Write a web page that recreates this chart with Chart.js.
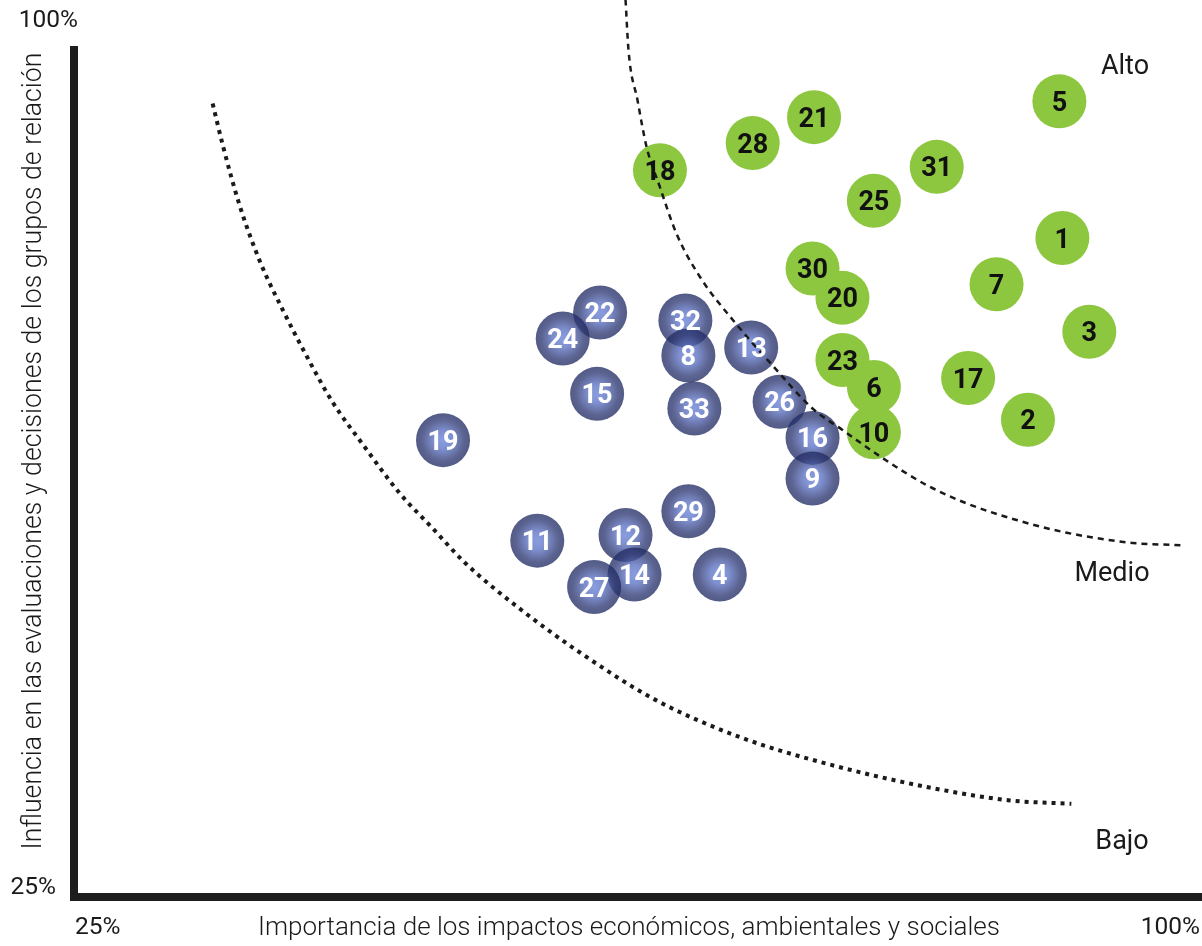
<!DOCTYPE html>
<html><head><meta charset="utf-8">
<script src="https://cdn.jsdelivr.net/npm/chart.js@4/dist/chart.umd.min.js"></script>
<style>html,body{margin:0;padding:0;background:#fff;overflow:hidden}#wrap{width:1202px;height:946px;position:relative}</style>
</head><body><div id="wrap"><canvas id="c" width="1202" height="946"></canvas></div>
<script>
// ---- data ----
const xTitle = 'Importancia de los impactos económicos, ambientales y sociales';
const yTitle = 'Influencia en las evaluaciones y decisiones de los grupos de relación';
const axisMinLabel = '25%';
const axisMaxLabel = '100%';
const zoneLabels = ['Alto', 'Medio', 'Bajo'];

const greenIds = ['5','21','28','18','31','25','1','30','7','20','3','23','6','17','2','10'];
const greenX   = [90.6, 74.2, 70.1, 63.9, 82.4, 78.2, 90.8, 74.1, 86.4, 76.1, 92.6, 76.1, 78.2, 84.5, 88.5, 78.2];
const greenY   = [95.1, 93.7, 91.4, 89.0, 89.3, 86.3, 83.0, 80.3, 78.9, 77.7, 74.7, 72.2, 69.8, 70.6, 66.9, 65.8];

const blueIds = ['22','24','32','8','13','15','33','26','16','9','19','29','11','12','14','27','4'];
const blueX   = [59.9, 57.4, 65.6, 65.8, 70.0, 59.7, 66.2, 71.9, 74.1, 74.1, 49.4, 65.8, 55.7, 61.6, 62.2, 59.5, 67.9];
const blueY   = [76.4, 74.1, 75.7, 72.6, 73.3, 69.2, 67.9, 68.5, 65.3, 61.7, 65.1, 58.8, 56.2, 56.7, 53.2, 52.1, 53.2];

const medioX = [61.6, 61.8, 62.4, 63.0, 63.9, 65.0, 66.6, 68.8, 71.5, 74.1, 76.1, 78.8, 81.75, 84.4, 87.8, 91.1, 95.5, 98.7];
const medioY = [104.1, 99.6, 95.2, 91.1, 87.5, 83.4, 79.5, 75.7, 71.6, 67.9, 66.0, 63.5, 61.1, 59.5, 58.0, 56.9, 56.0, 55.8];

const bajoX = [34.0, 34.7, 35.8, 37.2, 38.7, 40.3, 42.0, 44.05, 46.5, 48.7, 50.9, 54.6, 58.6, 63.6, 69.25, 74.9, 81.7, 87.3, 91.4];
const bajoY = [94.9, 91.1, 85.9, 80.8, 76.6, 72.5, 68.5, 64.7, 60.4, 57.3, 54.2, 50.1, 46.25, 42.1, 38.8, 36.5, 34.4, 33.2, 32.9];

// ---- build ----
const zip = (xs, ys) => xs.map((x, i) => ({x, y: ys[i]}));
const FONT = 'Roboto, "Open Sans", "DejaVu Sans", sans-serif';
const R = 27;
const BLUE_EDGE = 'rgba(34,44,100,0.78)';

function blueFill(c) {
  if (c.type !== 'data' || !c.raw) return BLUE_EDGE;
  const ch = c.chart, xs = ch.scales.x, ys = ch.scales.y;
  if (!xs || !ys) return BLUE_EDGE;
  const px = xs.getPixelForValue(c.raw.x), py = ys.getPixelForValue(c.raw.y);
  if (!isFinite(px) || !isFinite(py)) return BLUE_EDGE;
  const g = ch.ctx.createRadialGradient(px, py, 0, px, py, R);
  g.addColorStop(0, 'rgba(104,130,214,0.78)');
  g.addColorStop(0.35, 'rgba(90,112,194,0.78)');
  g.addColorStop(0.78, 'rgba(46,56,114,0.78)');
  g.addColorStop(1, BLUE_EDGE);
  return g;
}

function fitFont(ctx, text, target, weight) {
  ctx.font = weight + ' 100px ' + FONT;
  const w = ctx.measureText(text).width;
  return weight + ' ' + (100 * target / w).toFixed(2) + 'px ' + FONT;
}

const deco = {
  id: 'deco',
  beforeDatasetsDraw(chart) {
    const {ctx, chartArea: a} = chart;
    ctx.save();
    ctx.fillStyle = '#1d1d1d';
    ctx.fillRect(a.left - 8, a.top, 8, a.bottom - a.top + 8);
    ctx.fillRect(a.left - 8, a.bottom, chart.width - (a.left - 8), 8);
    ctx.fillStyle = '#1a1a1a';
    ctx.textBaseline = 'middle';
    ctx.font = '24.5px ' + FONT;
    ctx.textAlign = 'right';
    ctx.fillText(axisMaxLabel, 78, 21);
    ctx.fillText(axisMinLabel, 56, 888);
    ctx.textAlign = 'left';
    ctx.fillText(axisMinLabel, 75, 928);
    ctx.textAlign = 'right';
    ctx.fillText(axisMaxLabel, 1200, 928);
    ctx.textAlign = 'center';
    ctx.font = fitFont(ctx, xTitle, 742, '300');
    ctx.fillText(xTitle, 629, 928);
    ctx.save();
    ctx.translate(34, 451);
    ctx.rotate(-Math.PI / 2);
    ctx.font = fitFont(ctx, yTitle, 797, '300');
    ctx.fillText(yTitle, 0, 0);
    ctx.restore();
    ctx.font = '27px ' + FONT;
    ctx.textAlign = 'center';
    ctx.fillText(zoneLabels[0], 1125, 67);
    ctx.fillText(zoneLabels[1], 1112, 574);
    ctx.fillText(zoneLabels[2], 1122, 842);
    ctx.restore();
  },
  afterDatasetsDraw(chart) {
    const ctx = chart.ctx;
    ctx.save();
    ctx.font = 'bold 27px ' + FONT;
    ctx.textAlign = 'center';
    ctx.textBaseline = 'alphabetic';
    chart.data.datasets.forEach((ds, i) => {
      if (!ds.ids) return;
      const meta = chart.getDatasetMeta(i);
      ctx.fillStyle = ds.labelColor;
      meta.data.forEach((el, j) => {
        ctx.fillText(ds.ids[j], el.x, el.y + 9.6);
      });
    });
    ctx.restore();
  }
};

new Chart(document.getElementById('c'), {
  type: 'bubble',
  data: {
    datasets: [
      { type: 'line', label: 'Medio', data: zip(medioX, medioY), borderColor: '#1a1a1a', borderWidth: 2.5,
        borderDash: [6, 5], borderCapStyle: 'butt', pointRadius: 0, cubicInterpolationMode: 'monotone',
        fill: false, clip: false, order: 0 },
      { type: 'line', label: 'Bajo', data: zip(bajoX, bajoY), borderColor: '#1a1a1a', borderWidth: 4,
        borderDash: [4, 5], borderCapStyle: 'butt', pointRadius: 0, cubicInterpolationMode: 'monotone',
        fill: false, clip: false, order: 0 },
      { label: 'Medio relevancia', data: zip(blueX, blueY), ids: blueIds, labelColor: '#ffffff',
        backgroundColor: blueFill, borderWidth: 0, radius: R, order: 1 },
      { label: 'Alta relevancia', data: zip(greenX, greenY), ids: greenIds, labelColor: '#111111',
        backgroundColor: '#8dc63f', borderWidth: 0, radius: R, order: 1 }
    ]
  },
  options: {
    responsive: false,
    animation: false,
    events: [],
    layout: { autoPadding: false, padding: { left: 78, top: 46, right: 2, bottom: 53 } },
    scales: {
      x: { type: 'linear', min: 25, max: 100, display: false },
      y: { type: 'linear', min: 25, max: 100, display: false }
    },
    plugins: { legend: { display: false }, tooltip: { enabled: false } }
  },
  plugins: [deco]
});
</script>
</body></html>
